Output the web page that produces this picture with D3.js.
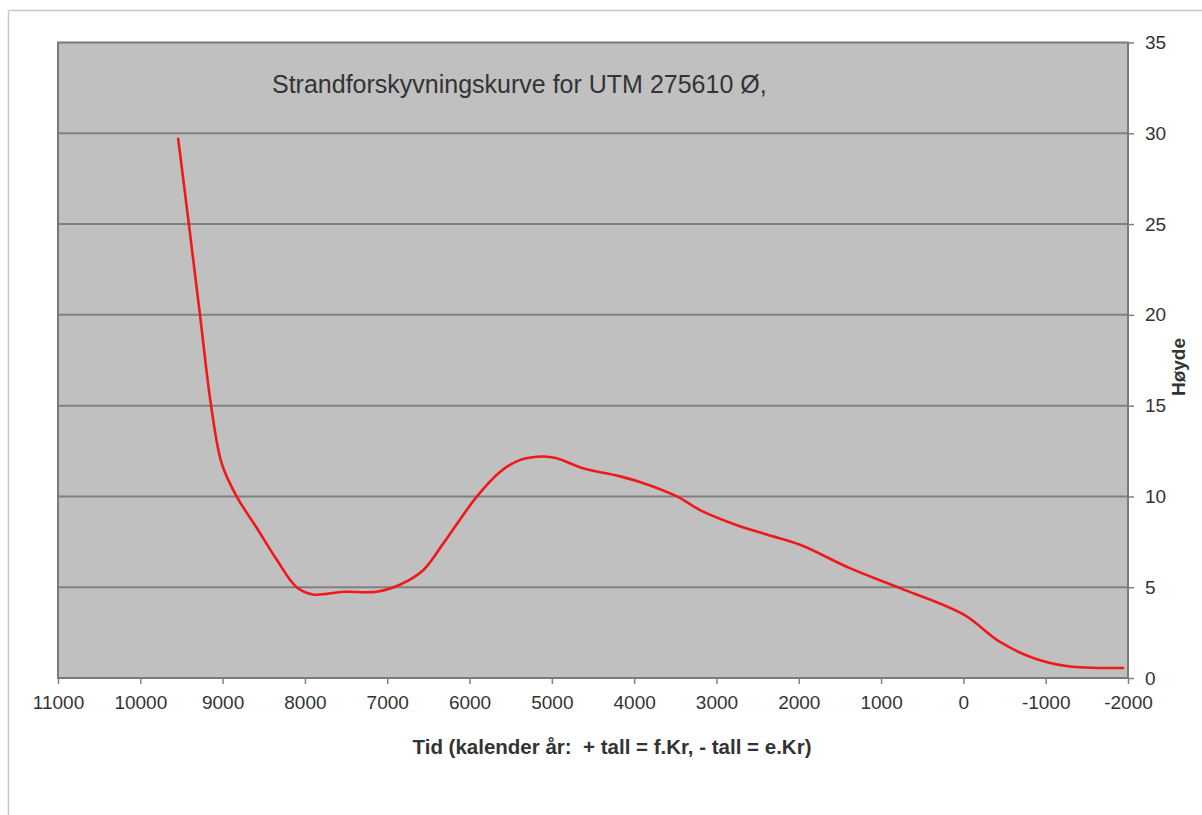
<!DOCTYPE html>
<html>
<head>
<meta charset="utf-8">
<script src="https://cdn.jsdelivr.net/npm/d3@7"></script>
<style>
  html, body { margin: 0; padding: 0; background: #ffffff; }
  svg { display: block; }
  text { font-family: "Liberation Sans", Arial, sans-serif; fill: #333; }
</style>
</head>
<body>
<svg id="chart" width="1202" height="815"></svg>
<script>
// ---- Data ----
const years  = [9540, 9410, 9275, 9140, 9010, 8830, 8590, 8340, 8100, 7900, 7530, 7130, 6840, 6560, 6320, 5910, 5630, 5390, 5100, 4940, 4620, 4210, 3930, 3480, 3200, 2800, 2390, 1990, 1380, 770, 0, -440, -850, -1250, -1940];
const heights = [29.7, 25.0, 20.0, 15.0, 11.8, 10.0, 8.3, 6.5, 5.0, 4.6, 4.75, 4.75, 5.15, 5.95, 7.4, 10.0, 11.35, 12.0, 12.2, 12.1, 11.55, 11.15, 10.8, 10.0, 9.25, 8.5, 7.9, 7.35, 6.05, 4.95, 3.5, 2.0, 1.1, 0.66, 0.55];
const xTicks = [11000, 10000, 9000, 8000, 7000, 6000, 5000, 4000, 3000, 2000, 1000, 0, -1000, -2000];
const yTicks = [0, 5, 10, 15, 20, 25, 30, 35];
const titleText = "Strandforskyvningskurve for UTM 275610 Ø,";
const xTitle = "Tid (kalender år:  + tall = f.Kr, - tall = e.Kr)";
const yTitle = "Høyde";

const svg = d3.select("#chart");
const plot = { left: 58, right: 1128, top: 42.5, bottom: 678 };

const x = d3.scaleLinear().domain([11000, -2000]).range([plot.left, plot.right]);
const y = d3.scaleLinear().domain([0, 35]).range([plot.bottom, plot.top]);

// outer frame
svg.append("line").attr("x1", 8.5).attr("x2", 1202).attr("y1", 10.5).attr("y2", 10.5)
  .attr("stroke", "#c8c8c8").attr("stroke-width", 1.5);
svg.append("line").attr("x1", 8.5).attr("x2", 8.5).attr("y1", 10.5).attr("y2", 815)
  .attr("stroke", "#c8c8c8").attr("stroke-width", 1.5);

// plot background
svg.append("rect")
  .attr("x", plot.left).attr("y", plot.top)
  .attr("width", plot.right - plot.left).attr("height", plot.bottom - plot.top)
  .attr("fill", "#c0c0c0");

// gridlines
svg.append("g").selectAll("line").data(yTicks.filter(d => d > 0 && d < 35)).join("line")
  .attr("x1", plot.left).attr("x2", plot.right)
  .attr("y1", d => y(d)).attr("y2", d => y(d))
  .attr("stroke", "#808080").attr("stroke-width", 2);

// plot border
svg.append("rect")
  .attr("x", plot.left).attr("y", plot.top)
  .attr("width", plot.right - plot.left).attr("height", plot.bottom - plot.top)
  .attr("fill", "none").attr("stroke", "#7a7a7a").attr("stroke-width", 2);

// x axis
const xAxis = d3.axisBottom(x).tickValues(xTicks).tickFormat(d => String(d)).tickSize(6).tickPadding(12);
const gx = svg.append("g").attr("transform", `translate(0,${plot.bottom})`).call(xAxis);
gx.select(".domain").remove();
gx.selectAll(".tick line").attr("stroke", "#808080").attr("stroke-width", 1.5);
gx.selectAll(".tick text").attr("font-size", 19).attr("fill", "#333")
  .attr("font-family", "Liberation Sans, Arial, sans-serif");

// y axis (right)
const yAxis = d3.axisRight(y).tickValues(yTicks).tickSize(6).tickPadding(11);
const gy = svg.append("g").attr("transform", `translate(${plot.right},0)`).call(yAxis);
gy.select(".domain").remove();
gy.selectAll(".tick line").attr("stroke", "#808080").attr("stroke-width", 1.5);
gy.selectAll(".tick text").attr("font-size", 19).attr("fill", "#333")
  .attr("font-family", "Liberation Sans, Arial, sans-serif");

// curve
const pts = years.map((yr, i) => [yr, heights[i]]);
const line = d3.line().x(d => x(d[0])).y(d => y(d[1])).curve(d3.curveCatmullRom.alpha(0.5));
svg.append("path").datum(pts)
  .attr("d", line)
  .attr("fill", "none").attr("stroke", "#f01818").attr("stroke-width", 2.6)
  .attr("stroke-linejoin", "round").attr("stroke-linecap", "round");

// title inside plot
svg.append("text").attr("x", 272).attr("y", 93)
  .attr("font-size", 25).attr("fill", "#222").text(titleText);

// x axis title
svg.append("text").attr("x", 612).attr("y", 754).attr("text-anchor", "middle")
  .attr("xml:space", "preserve").style("white-space", "pre")
  .attr("font-size", 20.5).attr("font-weight", "bold").attr("fill", "#222").text(xTitle);

// y axis title (rotated)
svg.append("text").attr("transform", "translate(1185,367) rotate(-90)")
  .attr("text-anchor", "middle")
  .attr("font-size", 19).attr("font-weight", "bold").attr("fill", "#222").text(yTitle);
</script>
</body>
</html>
